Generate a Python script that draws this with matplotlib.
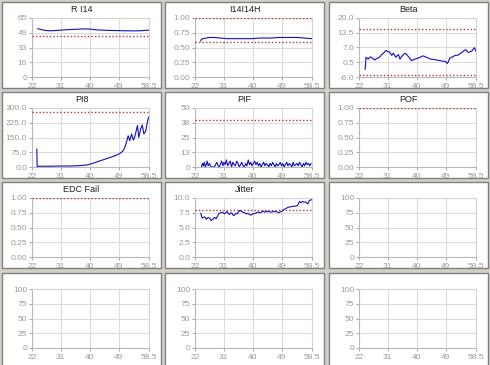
import matplotlib
matplotlib.use("Agg")
import matplotlib.pyplot as plt
from matplotlib.patches import Rectangle

plt.rcParams['font.family'] = ['Liberation Sans', 'DejaVu Sans']

# x axis shared by every panel
x_ticks = [22, 31, 40, 49, 58.5]
x_labels = ['22', '31', '40', '49', '58.5']

# ---- data ----
ri14_x = [23.8, 24.5, 25.5, 26.5, 27.5, 28.5, 30, 31.5, 33, 34.5, 36, 37.5, 39, 40.5, 42,
          44, 46, 48, 50, 52, 54, 55.5, 57, 58.4]
ri14_y = [53.2, 52.5, 51.8, 51.2, 50.9, 51.0, 51.4, 51.8, 52.1, 52.4, 52.6, 52.9, 53.0, 52.6, 52.0,
          51.6, 51.3, 51.2, 51.0, 50.9, 50.8, 50.9, 51.3, 51.6]
ri14_lim = [45]

i14_x = [23.8, 24.0, 24.6, 25.5, 26.5, 28, 30, 32, 34, 36, 38, 40, 42, 44, 46, 48, 50, 52,
         54, 56, 58.4]
i14_y = [0.61, 0.64, 0.65, 0.66, 0.67, 0.67, 0.66, 0.65, 0.65, 0.65, 0.65, 0.65, 0.66, 0.66,
         0.66, 0.67, 0.67, 0.67, 0.67, 0.66, 0.65]
i14_lim = [1.0, 0.60]

beta_x = [23.9, 24.2, 24.6, 24.9, 25.4, 25.9, 26.4, 27.0, 27.5, 28.0, 28.6, 29.1, 29.7, 30.4,
          30.9, 31.5, 31.9, 32.2, 32.7, 33.1, 33.5, 33.9, 34.3, 34.8, 35.3, 35.8, 36.2, 36.7,
          37.4, 37.9, 38.4, 39.0, 39.5, 40.3, 41.1, 41.6, 42.1, 42.6, 43.1, 43.7, 44.2, 45.0,
          45.7, 46.5, 47.3, 48.1, 48.9, 49.3, 49.6, 50.0, 50.4, 51.2, 52.0, 52.8, 53.5, 54.1,
          54.6, 55.0, 55.4, 55.8, 56.1, 56.6, 57.2, 57.6, 58.0, 58.5]
beta_y = [-2.6, 2.7, 2.2, 1.9, 2.8, 2.7, 2.0, 1.5, 2.2, 2.4, 3.0, 3.9, 4.6, 5.7,
          5.3, 5.0, 4.2, 3.5, 4.5, 3.6, 2.7, 3.4, 3.9, 1.9, 3.0, 3.8, 4.4, 4.2,
          3.0, 2.2, 1.2, 1.6, 1.9, 2.3, 2.7, 3.1, 3.3, 2.9, 2.7, 2.3, 1.9, 1.8,
          1.6, 1.4, 1.2, 1.0, 0.9, 0.3, 0.0, 1.2, 2.4, 2.9, 3.5, 3.6, 4.2, 4.8,
          5.4, 5.9, 6.0, 5.2, 4.8, 5.1, 5.4, 6.2, 6.9, 5.4]
beta_lim = [15.0, -5.0]

pi8_x = [23.5, 23.6, 24.5, 26, 28, 30, 32, 33.7, 35.3, 36.9, 38, 39, 40, 40.8, 41.6, 42.3,
         43.1, 43.9, 44.7, 45.5, 46.3, 47.0, 47.8, 48.6, 49.4, 49.9, 50.4, 50.9, 51.3, 51.7,
         52.0, 52.5, 53.1, 53.6, 54.0, 54.4, 54.9, 55.3, 55.6, 55.9, 56.4, 56.9, 57.2, 57.5,
         58.0, 58.4]
pi8_y = [91, 3, 4, 4, 4, 5, 5, 5, 6, 7, 9, 10, 14, 18, 22, 26,
         31, 35, 39, 44, 48, 52, 57, 62, 69, 75, 82, 98, 117, 140,
         159, 134, 168, 137, 150, 177, 211, 151, 170, 194, 214, 168, 175, 185,
         228, 254]
pi8_lim = [280]

pif_x = [24.0, 24.3, 24.6, 24.9, 25.2, 25.5, 25.8, 26.1, 26.5, 27.0, 27.5, 28.0, 28.4, 28.8,
         29.2, 29.6, 30.0, 30.3, 30.7, 31.0, 31.4, 31.8, 32.2, 32.6, 33.0, 33.4, 33.8, 34.2,
         34.6, 35.0, 35.4, 35.8, 36.2, 36.6, 37.0, 37.4, 37.8, 38.2, 38.6, 39.0, 39.4, 39.8,
         40.2, 40.6, 41.0, 41.4, 41.8, 42.2, 42.6, 43.0, 43.4, 43.8, 44.2, 44.6, 45.0, 45.4,
         45.8, 46.2, 46.6, 47.0, 47.4, 47.8, 48.2, 48.6, 49.0, 49.4, 49.8, 50.2, 50.6, 51.0,
         51.4, 51.8, 52.2, 52.6, 53.0, 53.4, 53.8, 54.2, 54.6, 55.0, 55.4, 55.8, 56.2, 56.6,
         57.0, 57.4, 57.8, 58.2]
pif_y = [0, 3, 1, 4, 0, 2, 5, 1, 3, 0, 0, 0, 2, 4,
         1, 0, 3, 5, 1, 4, 2, 6, 1, 3, 5, 0, 4, 2,
         1, 5, 3, 0, 2, 4, 1, 0, 3, 1, 6, 2, 4, 1,
         3, 5, 2, 4, 1, 3, 0, 2, 4, 1, 3, 2, 0, 3,
         1, 4, 2, 0, 3, 1, 2, 4, 1, 3, 0, 2, 4, 1,
         3, 2, 0, 4, 1, 2, 3, 1, 4, 2, 0, 3, 1, 4,
         2, 3, 1, 3]
pif_lim = [40]

jit_x = [23.8, 24.2, 25.0, 25.5, 26.1, 26.6, 27.0, 27.4, 28.1, 28.6, 29.0, 29.5, 30.0, 30.5,
         31.2, 31.6, 32.0, 32.4, 32.8, 33.2, 33.6, 34.0, 34.3, 34.7, 35.1, 35.5, 35.9, 36.4,
         36.9, 37.5, 38.0, 38.5, 39.0, 39.5, 40.0, 40.8, 41.6, 42.4, 43.2, 43.7, 44.2, 45.0,
         45.7, 46.5, 47.3, 48.1, 48.9, 49.4, 49.9, 50.4, 50.9, 51.7, 52.5, 53.2, 54.0, 54.3,
         54.6, 55.1, 55.6, 56.1, 56.6, 57.2, 57.7, 58.4]
jit_y = [7.4, 6.6, 6.8, 6.4, 6.7, 6.6, 6.2, 6.3, 6.7, 6.5, 6.9, 7.4, 7.5, 7.6,
         7.3, 7.5, 7.7, 7.4, 7.2, 7.5, 7.4, 7.0, 7.1, 7.4, 7.3, 7.6, 7.9, 7.8,
         7.6, 7.5, 7.3, 7.4, 7.2, 7.1, 7.3, 7.4, 7.6, 7.5, 7.8, 7.6, 7.7, 7.7,
         7.6, 7.7, 7.7, 7.5, 7.7, 7.9, 8.1, 8.2, 8.4, 8.5, 8.6, 8.6, 8.7, 9.1,
         9.4, 9.2, 9.4, 9.3, 9.3, 9.0, 9.6, 9.7]
jit_lim = [8.0]

# title, y ticks, y labels, data x, data y, limit lines
panels = [
    ("R I14", [0, 16.25, 32.5, 48.75, 65], ['0', '16', '33', '49', '65'], ri14_x, ri14_y, ri14_lim),
    ("I14I14H", [0, .25, .5, .75, 1], ['0.00', '0.25', '0.50', '0.75', '1.00'], i14_x, i14_y, i14_lim),
    ("Beta", [-6, 0.5, 7, 13.5, 20], ['-6.0', '0.5', '7.0', '13.5', '20.0'], beta_x, beta_y, beta_lim),
    ("PI8", [0, 75, 150, 225, 300], ['0.0', '75.0', '150.0', '225.0', '300.0'], pi8_x, pi8_y, pi8_lim),
    ("PIF", [0, 12.5, 25, 37.5, 50], ['0', '13', '25', '38', '50'], pif_x, pif_y, pif_lim),
    ("POF", [0, .25, .5, .75, 1], ['0.00', '0.25', '0.50', '0.75', '1.00'], [], [], [1.0]),
    ("EDC Fail", [0, .25, .5, .75, 1], ['0.00', '0.25', '0.50', '0.75', '1.00'], [], [], [1.0]),
    ("Jitter", [0, 2.5, 5, 7.5, 10], ['0.0', '2.5', '5.0', '7.5', '10.0'], jit_x, jit_y, jit_lim),
    ("", [0, 25, 50, 75, 100], ['0', '25', '50', '75', '100'], [], [], []),
    ("", [0, 25, 50, 75, 100], ['0', '25', '50', '75', '100'], [], [], []),
    ("", [0, 25, 50, 75, 100], ['0', '25', '50', '75', '100'], [], [], []),
    ("", [0, 25, 50, 75, 100], ['0', '25', '50', '75', '100'], [], [], []),
]

W, H = 490, 365
fig = plt.figure(figsize=(W / 100, H / 100), dpi=100)
fig.patch.set_facecolor('#d4d0c8')

col_left = [2, 165, 329]
row_top = [2, 92, 182, 273]
pw, ph = 159, 86


def fx(px):
    return px / W


def fy(py):
    return 1 - py / H


for i, (title, yt, yl, dx, dy, lims) in enumerate(panels):
    r, c = divmod(i, 3)
    L, T = col_left[c], row_top[r]
    hgt = ph if r < 3 else 95
    fig.patches.append(Rectangle((fx(L), fy(T + hgt)), pw / W, hgt / H, transform=fig.transFigure,
                                 facecolor='white', edgecolor='#808080', lw=1, zorder=-5))
    if title:
        fig.text(fx(L + pw / 2), fy(T + 7), title, ha='center', va='center', fontsize=6.5, color='#202020')

    ax = fig.add_axes([fx(L + 30), fy(T + 16 + 59), 117 / W, 59 / H])
    ax.set_zorder(2)
    ax.set_xlim(22, 58.5)
    ax.set_ylim(yt[0], yt[-1])
    ax.set_xticks(x_ticks)
    ax.set_xticklabels(x_labels)
    ax.set_yticks(yt)
    ax.set_yticklabels(yl)
    ax.grid(True, color='#dcdcdc', lw=0.8)
    ax.set_axisbelow(True)
    for s in ax.spines.values():
        s.set_color('#d4d4d4')
        s.set_linewidth(0.8)
    ax.spines['left'].set_color('#b8b8b8')
    ax.spines['bottom'].set_color('#b8b8b8')
    ax.tick_params(labelsize=6, colors='#999999', length=2, width=0.6, pad=1.5)
    ax.tick_params(axis='x', pad=2.5)
    ax.patch.set_alpha(0)

    for v in lims:
        ax.axhline(v, color='#b03a3a', lw=1, ls=(0, (1, 1.5)), zorder=3)
    if dx:
        ax.plot(dx, dy, color='#1010c0', lw=0.8, zorder=4)

fig.savefig('out.png', dpi=100, facecolor=fig.get_facecolor())
